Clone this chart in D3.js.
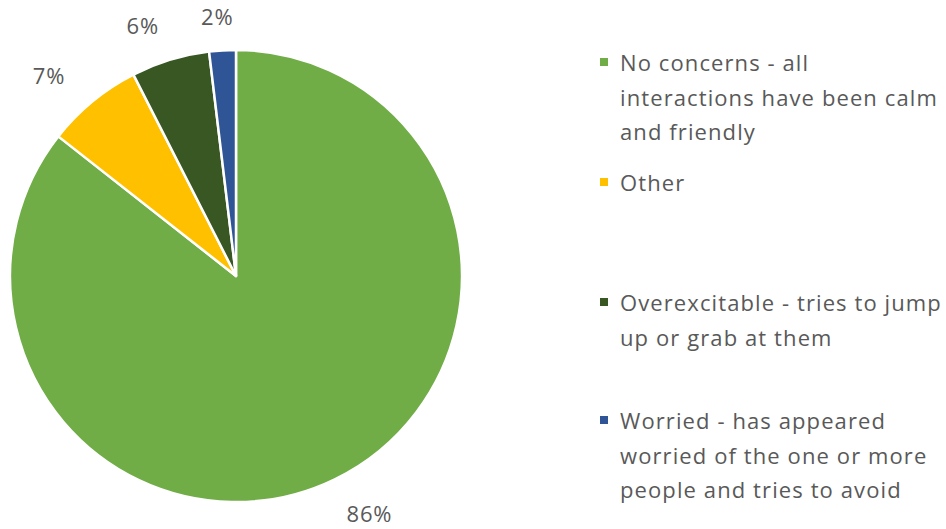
<!DOCTYPE html>
<html>
<head>
<meta charset="utf-8">
<script src="https://cdn.jsdelivr.net/npm/d3@7"></script>
<style>
html,body{margin:0;padding:0;background:#fff;}
svg{display:block;}
text{font-family:"Open Sans",Lato,sans-serif;fill:#595959;}
</style>
</head>
<body>
<svg id="chart" width="946" height="529"></svg>
<script>
const categories = [
  "No concerns - all interactions have been calm and friendly",
  "Other",
  "Overexcitable - tries to jump up or grab at them",
  "Worried - has appeared worried of the one or more people and tries to avoid"
];
const values = [85.6, 6.9, 5.6, 1.9];
const percentLabels = ["86%", "7%", "6%", "2%"];
const legendLines = [
  ["No concerns - all", "interactions have been calm", "and friendly"],
  ["Other"],
  ["Overexcitable - tries to jump", "up or grab at them"],
  ["Worried - has appeared", "worried of the one or more", "people and tries to avoid"]
];
const colors = ["#70AD47", "#FFC000", "#385723", "#2F5597"];

const svg = d3.select("#chart");
const cx = 236, cy = 276, r = 226;

const pie = d3.pie().sort(null).value(d => d)
  .startAngle(0).endAngle(2 * Math.PI);
const arcs = pie(values);
const arc = d3.arc().innerRadius(0).outerRadius(r);

const g = svg.append("g").attr("transform", `translate(${cx},${cy})`);
g.selectAll("path").data(arcs).join("path")
  .attr("d", arc)
  .attr("fill", (d, i) => colors[i])
  .attr("stroke", "#fff")
  .attr("stroke-width", 2.5)
  .attr("stroke-linejoin", "round");

// outside-end labels (best-fit style placement just outside the rim)
const maxRot = -3.5 * Math.PI / 180;
g.selectAll("text.pl").data(arcs).join("text")
  .attr("class", "pl")
  .attr("text-anchor", "middle")
  .attr("dominant-baseline", "central")
  .style("font-size", "22px")
  .style("letter-spacing", "0.8px")
  .text((d, i) => percentLabels[i])
  .each(function(d) {
    const mid = (d.startAngle + d.endAngle) / 2;
    const dist = r + 33 + 16 * Math.abs(Math.sin(2 * mid));
    const fromTop = Math.min(mid, 2 * Math.PI - mid);
    const a = mid + maxRot * Math.min(1, fromTop / 0.3);
    d3.select(this)
      .attr("x", Math.sin(a) * dist)
      .attr("y", -Math.cos(a) * dist);
  });

const groupY = [62, 182, 302, 420];
const lineH = 34.5;
const lg = svg.append("g");
legendLines.forEach((lines, i) => {
  lg.append("rect")
    .attr("x", 600).attr("y", groupY[i] - 4)
    .attr("width", 8).attr("height", 8)
    .attr("fill", colors[i]);
  lines.forEach((t, j) => {
    lg.append("text")
      .attr("x", 620).attr("y", groupY[i] + j * lineH)
      .attr("dominant-baseline", "central")
      .style("font-size", "22px")
      .style("letter-spacing", "1.1px")
      .text(t);
  });
});
</script>
</body>
</html>
